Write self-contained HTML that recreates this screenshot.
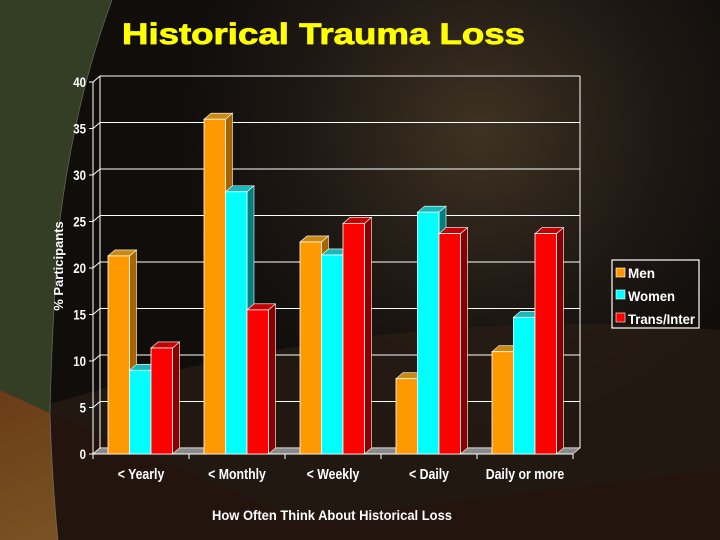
<!DOCTYPE html>
<html><head><meta charset="utf-8"><style>
html,body{margin:0;padding:0}
body{width:720px;height:540px;overflow:hidden;position:relative;font-family:"Liberation Sans",sans-serif;background:#120f0d;}
svg{position:absolute;left:0;top:0}
</style></head><body>
<svg width="720" height="540">
<defs>
<radialGradient id="glow" cx="480" cy="130" r="300" gradientUnits="userSpaceOnUse">
<stop offset="0" stop-color="#3e3222"/><stop offset="0.6" stop-color="#1e1813"/><stop offset="1" stop-color="#100d0b"/></radialGradient>
<linearGradient id="brown" x1="0" y1="390" x2="60" y2="540" gradientUnits="userSpaceOnUse">
<stop offset="0" stop-color="#6a3c18"/><stop offset="1" stop-color="#7a5222"/></linearGradient>
</defs>
<rect x="0" y="0" width="720" height="540" fill="url(#glow)"/>
<path d="M0,540 L0,420 Q360,300 720,330 L720,540 Z" fill="#2a1e16" opacity="0.7"/>
<path d="M50,413 L300,520 L720,470 L720,540 L58,540 Z" fill="#24140c" opacity="0.8"/>
<path d="M0,0 L112,0 Q75,100 60,220 Q52,320 50,413 L0,390 Z" fill="#333e25"/>
<path d="M0,390 L50,413 Q52,480 58,540 L0,540 Z" fill="url(#brown)"/>
<path d="M112,0 Q75,100 60,220 Q52,320 50,413 Q52,480 58,540" fill="none" stroke="#8a8a80" stroke-width="0.8" opacity="0.6"/>
<text x="122" y="44" font-family="Liberation Sans" font-weight="bold" font-size="30" fill="#ffff00" textLength="403" lengthAdjust="spacingAndGlyphs" stroke="#ffff00" stroke-width="0.8">Historical Trauma Loss</text>
<g id="plot"></g>
<text transform="translate(63,266) rotate(-90)" text-anchor="middle" font-weight="bold" font-size="13" fill="#fff">% Participants</text>
<text x="212" y="520" font-weight="bold" font-size="14" fill="#fff" textLength="240" lengthAdjust="spacingAndGlyphs">How Often Think About Historical Loss</text>
<g>
<rect x="612" y="260" width="87" height="68" fill="none" stroke="#fff" stroke-width="1.2"/>
<g><rect x="616" y="268" width="9" height="9" fill="#ff9900" stroke="#fff" stroke-width="0.6"/><text x="628" y="278" font-weight="bold" font-size="14" fill="#fff" textLength="27" lengthAdjust="spacingAndGlyphs">Men</text></g>
<g><rect x="616" y="290" width="9" height="9" fill="#00ffff" stroke="#fff" stroke-width="0.6"/><text x="628" y="301" font-weight="bold" font-size="14" fill="#fff" textLength="47" lengthAdjust="spacingAndGlyphs">Women</text></g>
<g><rect x="616" y="313" width="9" height="9" fill="#ff0000" stroke="#fff" stroke-width="0.6"/><text x="628" y="324" font-weight="bold" font-size="14" fill="#fff" textLength="67" lengthAdjust="spacingAndGlyphs">Trans/Inter</text></g>
</g>
</svg>
<script>
const categories=["< Yearly","< Monthly","< Weekly","< Daily","Daily or more"];
const men=[21.3,36.0,22.8,8.1,11.0];
const women=[9.0,28.2,21.4,26.0,14.7];
const trans=[11.4,15.5,24.8,23.7,23.7];
const yTicks=[0,5,10,15,20,25,30,35,40];
const NS="http://www.w3.org/2000/svg";
const g=document.getElementById('plot');
const DX=7,DY=-6;
const fx0=93,fx1=573,fy0=454,fyTop=82;
function y(v){return fy0-(v/40)*(fy0-fyTop);}
function x(i){return fx0+i*(fx1-fx0)/categories.length;}
function mk(tag,a){const e=document.createElementNS(NS,tag);for(const k in a)e.setAttribute(k,a[k]);g.appendChild(e);return e;}
yTicks.forEach(t=>{
 const l=mk('line',{x1:fx0+DX,x2:fx1+DX,y1:y(t)+DY,y2:y(t)+DY,stroke:'#fff','stroke-width':1});
 
 
 mk('line',{x1:fx0,x2:fx0+DX,y1:y(t),y2:y(t)+DY,stroke:'#fff','stroke-width':1});
 const tx=mk('text',{transform:`translate(${fx0-7},${y(t)+5}) scale(0.82,1)`,'text-anchor':'end','font-weight':'bold','font-size':14,fill:'#fff'});
 tx.textContent=t;
 
 
 mk('line',{x1:fx0-4,x2:fx0,y1:y(t),y2:y(t),stroke:'#fff'});
});
mk('line',{x1:fx0+DX,x2:fx0+DX,y1:y(40)+DY,y2:y(0)+DY,stroke:'#fff'});
mk('line',{x1:fx1+DX,x2:fx1+DX,y1:y(40)+DY,y2:y(0)+DY,stroke:'#fff'});
mk('polygon',{points:`${fx0},${fy0} ${fx1},${fy0} ${fx1+DX},${fy0+DY} ${fx0+DX},${fy0+DY}`,fill:'#8a8a8a',stroke:'#fff','stroke-width':0.6});
mk('line',{x1:fx0,x2:fx0,y1:y(40),y2:fy0,stroke:'#fff'});
mk('line',{x1:fx0,x2:fx1,y1:fy0,y2:fy0,stroke:'#fff'});
const series=[[men,'#ff9900','#a86400','#c88a10','men'],[women,'#00ffff','#008080','#1ab8b8','women'],[trans,'#ff0000','#8a0000','#c40000','trans']];
const bw=21.5;
categories.forEach((c,i)=>{
 mk('line',{x1:x(i),x2:x(i),y1:fy0,y2:fy0+5,stroke:'#fff'});
 const t=mk('text',{transform:`translate(${x(i)+(fx1-fx0)/10},${fy0+25}) scale(0.82,1)`,'text-anchor':'middle','font-weight':'bold','font-size':15,fill:'#fff'});
 t.textContent=c;
 
 
 series.forEach((s,j)=>{
  const v=s[0][i];const bx=x(i)+15+j*bw;const top=y(v);
  const grp=document.createElementNS(NS,'g');g.appendChild(grp);
  
  
  const a=(tag,at)=>{const e=document.createElementNS(NS,tag);for(const k in at)e.setAttribute(k,at[k]);grp.appendChild(e);};
  a('polygon',{points:`${bx+bw},${top} ${bx+bw+DX},${top+DY} ${bx+bw+DX},${fy0+DY} ${bx+bw},${fy0}`,fill:s[2],stroke:'#fff','stroke-width':0.6});
  a('polygon',{points:`${bx},${top} ${bx+DX},${top+DY} ${bx+bw+DX},${top+DY} ${bx+bw},${top}`,fill:s[3],stroke:'#fff','stroke-width':0.6});
  a('rect',{x:bx,y:top,width:bw,height:fy0-top,fill:s[1],stroke:'#fff','stroke-width':0.8});
 });
});
mk('line',{x1:fx1,x2:fx1,y1:fy0,y2:fy0+5,stroke:'#fff'});
</script>
</body></html>
